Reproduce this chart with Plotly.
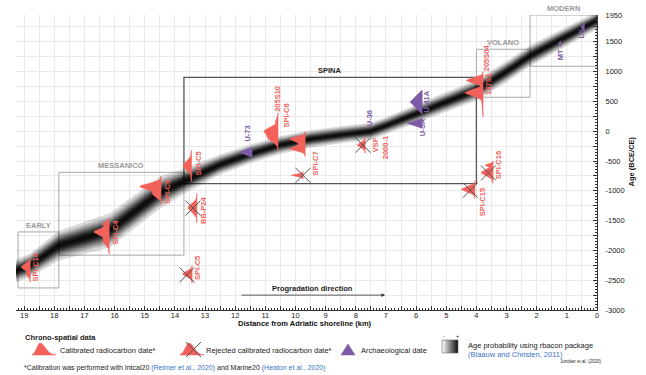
import numpy as np
import plotly.graph_objects as go

FONT = "Liberation Sans, Arial, sans-serif"
RED = "#F2625B"
PURPLE = "#7D5BA6"
BLUE = "#3A73C0"
GRID = "#e9e9e9"

# ---------------- data ----------------
# age-depth model (rbacon) : centre line and half width of the probability band
band_km = [19.3, 18.8, 17.85, 16.15, 14.5, 13.7, 12.5, 11.5, 10.5, 9.5, 8.5, 7.5, 7.0, 6.3, 5.5, 4.0, 3.0, 2.2, 1.2, 0.45, 0.0]
band_center = [-2350, -2250, -1920, -1660, -1030, -840, -560, -380, -230, -130, -60, 0, 90, 230, 390, 690, 1000, 1270, 1540, 1740, 1860]
band_half = [260, 270, 340, 390, 370, 290, 230, 215, 205, 200, 195, 195, 195, 205, 215, 240, 240, 240, 220, 210, 200]

# chrono-spatial periods
period_names = ["EARLY", "MESSANICO", "SPINA", "VOLANO", "MODERN"]
period_km_start = [19.2, 17.85, 13.7, 4.0, 2.22]
period_km_end = [17.85, 13.7, 4.0, 2.22, 0.0]
period_age_min = [-2630, -2080, -880, 570, 1090]
period_age_max = [-1690, -690, 905, 1375, 1950]
period_colors = ["#a8a8a8", "#a8a8a8", "#555555", "#a8a8a8", "#a8a8a8"]

# calibrated radiocarbon dates (accepted): baseline km, modes (age, sd, width km)
cal_ids = ["SPI-C14", "SPI-C4", "SPI-C9", "SPI-C5", "205S10/SPI-C6", "SPI-C7", "187S1/205S04"]
cal_km = [18.8, 16.18, 14.46, 13.45, 10.58, 9.68, 3.78]
cal_means = [[-2280, -2410], [-1690, -1560, -1850], [-930, -1070], [-580], [0, -130, 170], [-130, -300, -215], [850, 640, 450]]
cal_sds = [[45, 35], [50, 30, 60], [50, 45], [75], [55, 55, 40], [32, 32, 60], [42, 50, 60]]
cal_peaks = [[0.3, 0.12], [0.5, 0.2, 0.2], [0.7, 0.25], [0.28], [0.45, 0.3, 0.08], [0.45, 0.45, 0.2], [0.55, 0.6, 0.04]]

# rejected calibrated radiocarbon dates
rej_ids = ["BB-P24", "SPI-C5", "SPI-C7", "VSF 2000-1", "SPI-C15", "SPI-C16"]
rej_km = [13.27, 13.43, 9.75, 7.69, 4.05, 3.45]
rej_means = [[-1290], [-2400], [-740], [-235], [-980], [-700, -570]]
rej_sds = [[70], [42], [18], [38], [42], [50, 20]]
rej_peaks = [[0.3], [0.32], [0.38], [0.26], [0.45], [0.4, 0.25]]
rej_cross_km = [13.4, 13.6, 9.75, 7.76, 4.2, 3.6]
rej_cross_age = [-1290, -2410, -740, -235, -990, -700]

# archaeological dates
arch_ids = ["U-73", "U-41A", "U-5A", "MT", "LS"]
arch_km = [11.44, 5.8, 5.8, 1.2, 0.42]
arch_age_lo = [-435, 290, 50, 1420, 1680]
arch_age_hi = [-270, 690, 215, 1520, 1820]
arch_width = [0.43, 0.4, 0.5, 0.08, 0.12]

# sample labels: text, km, age, colour
sample_labels = [
    ("SPI-C14", 18.63, -2280, RED), ("SPI-C4", 15.98, -1700, RED),
    ("SPI-C9", 14.26, -1020, RED), ("SPI-C5", 13.23, -540, RED),
    ("BB-P24", 13.03, -1320, RED), ("SPI-C5", 13.26, -2290, RED),
    ("205S10", 10.62, 540, RED), ("SPI-C6", 10.3, 270, RED),
    ("SPI-C7", 9.35, -540, RED), ("VSF", 7.36, -235, RED),
    ("2000-1", 7.03, -285, RED), ("205S04", 3.68, 1225, RED),
    ("187S1", 3.62, 790, RED), ("SPI-C15", 3.81, -1190, RED),
    ("SPI-C16", 3.28, -570, RED), ("U-73", 11.6, -35, PURPLE),
    ("U-36", 7.56, 218, PURPLE), ("U-41A", 5.67, 500, PURPLE),
    ("U-5A", 5.8, 67, PURPLE), ("MT", 1.2, 1290, PURPLE), ("LS", 0.5, 1640, PURPLE),
]

x_ticks = list(range(0, 20))
y_tick_labels = [-3000, -2500, -2000, -1500, -1000, -500, 0, 500, 1000, 1500, 1950]

# ---------------- figure ----------------
fig = go.Figure()

# probability band: nested translucent layers giving a gaussian-like shading
bk = np.array(band_km, float)
bc = np.array(band_center, float)
bh = np.array(band_half, float)
N = 18
peak_op = 0.94
alpha = 1 - (1 - peak_op) ** (1 / N)
sig_u = 0.38
for k in range(1, N + 1):
    op = 1 - (1 - alpha) ** k
    f = max(sig_u * np.sqrt(max(2 * np.log(peak_op / op), 0)), 0.03)
    up = bc + f * bh
    lo = bc - f * bh
    fig.add_trace(go.Scatter(x=np.concatenate([bk, bk[::-1]]), y=np.concatenate([up, lo[::-1]]),
                             fill="toself", fillcolor="rgba(0,0,0,%.4f)" % alpha, line=dict(width=0),
                             mode="lines", hoverinfo="skip"))


def dist_trace(x0, means, sds, peaks, color):
    m = np.array(means, float); s = np.array(sds, float); p = np.array(peaks, float)
    a = np.linspace((m - 3.5 * s).min(), (m + 3.5 * s).max(), 160)
    d = (p[:, None] * np.exp(-0.5 * ((a[None, :] - m[:, None]) / s[:, None]) ** 2)).sum(0)
    xs = np.concatenate([x0 + d, [x0, x0]])
    ys = np.concatenate([a, [a[-1], a[0]]])
    return go.Scatter(x=xs, y=ys, fill="toself", fillcolor=color, mode="lines",
                      line=dict(color=color, width=0.6), hoverinfo="skip")


for i in range(len(cal_ids)):
    fig.add_trace(dist_trace(cal_km[i], cal_means[i], cal_sds[i], cal_peaks[i], RED))
for i in range(len(rej_ids)):
    fig.add_trace(dist_trace(rej_km[i], rej_means[i], rej_sds[i], rej_peaks[i], RED))
fig.add_trace(go.Scatter(x=rej_cross_km, y=rej_cross_age, mode="markers",
                         marker=dict(symbol="x-thin", size=15, line=dict(width=1, color="#555")),
                         hoverinfo="skip"))

for i in range(len(arch_ids)):
    x0 = arch_km[i]
    xs = [x0, x0 + arch_width[i], x0, x0]
    ys = [arch_age_lo[i], (arch_age_lo[i] + arch_age_hi[i]) / 2, arch_age_hi[i], arch_age_lo[i]]
    fig.add_trace(go.Scatter(x=xs, y=ys, fill="toself", fillcolor=PURPLE, mode="lines",
                             line=dict(color=PURPLE, width=0.6), hoverinfo="skip"))

# period boxes and labels
for i, name in enumerate(period_names):
    fig.add_shape(type="rect", xref="x", yref="y", x0=period_km_start[i], x1=period_km_end[i],
                  y0=period_age_min[i], y1=period_age_max[i], layer="between",
                  line=dict(color=period_colors[i], width=1.3 if name == "SPINA" else 1))
    fig.add_annotation(x=(period_km_start[i] + period_km_end[i]) / 2, y=period_age_max[i],
                       xref="x", yref="y", yanchor="bottom", yshift=0, showarrow=False,
                       text="<b>%s</b>" % name,
                       font=dict(size=7.5, color="#222" if name == "SPINA" else "#999", family=FONT))

for t, x, y, c in sample_labels:
    fig.add_annotation(x=x, y=y, xref="x", yref="y", text="<b>%s</b>" % t, textangle=-90,
                       showarrow=False, font=dict(size=7.5, color=c, family=FONT))

# progradation arrow
fig.add_annotation(x=7.03, y=-2750, ax=11.84, ay=-2750, xref="x", yref="y", axref="x", ayref="y",
                   text="", showarrow=True, arrowhead=2, arrowsize=0.9, arrowwidth=0.8, arrowcolor="#333")
fig.add_annotation(x=9.42, y=-2640, xref="x", yref="y", text="<b>Progradation direction</b>",
                   showarrow=False, font=dict(size=7.5, color="#222", family=FONT))

# ---------------- axes ----------------
x_tickvals = [v / 2 for v in range(0, 39)]
x_ticktext = [str(int(v)) if float(v).is_integer() else "" for v in x_tickvals]
fig.update_xaxes(range=[19.27, 0], tickmode="array", tickvals=x_tickvals, ticktext=x_ticktext,
                 ticks="inside", ticklen=4, tickcolor="#333", showline=True, linecolor="#333",
                 linewidth=1, showgrid=True, gridcolor=GRID, gridwidth=1, zeroline=False,
                 ticklabelstandoff=-2,
                 tickfont=dict(size=7.5, color="#222", family=FONT),
                 minor=dict(tickmode="linear", tick0=0, dtick=0.1, ticks="inside", ticklen=2,
                            tickcolor="#333", showgrid=False))
y_tickvals = list(range(-3000, 1751, 250)) + [1950]
y_ticktext = [str(v) if v in y_tick_labels else "" for v in y_tickvals]
fig.update_yaxes(range=[-3000, 1950], side="right", tickmode="array", tickvals=y_tickvals,
                 ticktext=y_ticktext, ticks="inside", ticklen=4, tickcolor="#333", showline=True,
                 linecolor="#333", linewidth=1, showgrid=True, gridcolor=GRID, gridwidth=1,
                 zeroline=False, ticklabelstandoff=6,
                 tickfont=dict(size=7.5, color="#222", family=FONT),
                 minor=dict(tickmode="linear", tick0=0, dtick=50, ticks="inside", ticklen=2,
                            tickcolor="#333", showgrid=False))

# ---------------- legend / notes (paper coords from pixels) ----------------
L, T, W, H = 16, 15, 581, 295


def px(x):
    return (x - L) / W


def py(y):
    return (T + H - y) / H


def note(x, y, text, size=7.5, color="#222", xanchor="left"):
    fig.add_annotation(x=px(x), y=py(y), xref="paper", yref="paper", text=text, showarrow=False,
                       xanchor=xanchor, yanchor="middle", font=dict(size=size, color=color, family=FONT))


fig.add_annotation(x=px(305), y=py(329.5), xref="paper", yref="paper",
                   text="<b>Distance from Adriatic shoreline (km)</b>", showarrow=False,
                   font=dict(size=7.5, color="#111", family=FONT))
fig.add_annotation(x=px(637), y=py(162), xref="paper", yref="paper", textangle=-90,
                   text="<b>Age (BCE/CE)</b>", showarrow=False, font=dict(size=7.5, color="#111", family=FONT))

note(23, 337, "<b>Chrono-spatial data</b>")


def hump_path(x0, x1, xpk, ytop, ybase):
    xs = np.linspace(x0, x1, 30)
    sd_l = (xpk - x0) / 2.5
    sd_r = (x1 - xpk) / 3.0
    h = np.where(xs < xpk, np.exp(-0.5 * ((xs - xpk) / sd_l) ** 2), np.exp(-0.5 * ((xs - xpk) / sd_r) ** 2))
    ys = ybase - (ybase - ytop) * h
    pts = ["M %f,%f" % (px(x0), py(ybase))] + ["L %f,%f" % (px(a), py(b)) for a, b in zip(xs, ys)]
    pts.append("L %f,%f Z" % (px(x1), py(ybase)))
    return " ".join(pts)


fig.add_shape(type="path", xref="paper", yref="paper", path=hump_path(32, 56, 40, 343, 355),
              fillcolor=RED, line=dict(color=RED, width=0.5))
note(58, 350, "Calibrated radiocarbon date*")
fig.add_shape(type="path", xref="paper", yref="paper", path=hump_path(180, 204, 189, 343, 355),
              fillcolor=RED, line=dict(color=RED, width=0.5))
for (a, b, c, d) in [(186, 342, 201, 357), (201, 342, 186, 357)]:
    fig.add_shape(type="line", xref="paper", yref="paper", x0=px(a), y0=py(b), x1=px(c), y1=py(d),
                  line=dict(color="#555", width=1))
note(204, 350, "Rejected calibrated radiocarbon date*")
fig.add_shape(type="path", xref="paper", yref="paper",
              path="M %f,%f L %f,%f L %f,%f Z" % (px(341), py(355), px(348), py(344), px(355), py(355)),
              fillcolor=PURPLE, line=dict(color=PURPLE, width=0.5))
note(359, 350, "Archaeological date")

# gradient box
nstep = 16
for k in range(nstep):
    g = int(round(250 - 230 * k / (nstep - 1)))
    fig.add_shape(type="rect", xref="paper", yref="paper", x0=px(442 + k), x1=px(443 + k),
                  y0=py(353), y1=py(340), line=dict(width=0), fillcolor="rgb(%d,%d,%d)" % (g, g, g))
fig.add_shape(type="rect", xref="paper", yref="paper", x0=px(442), x1=px(458), y0=py(353), y1=py(340),
              line=dict(color="#666", width=0.6))
note(444, 335.5, "-", size=5, xanchor="center")
note(457, 335.5, "+", size=5, xanchor="center")
note(466, 345, "Age probability using rbacon package")
note(466, 354.5, "(Blaauw and Christen, 2011)", color=BLUE)

note(22, 368, "*Calibration was performed with Intcal20 <span style='color:%s'>(Reimer et al., 2020)</span>"
              " and Marine20 <span style='color:%s'>(Heaton et al., 2020)</span>" % (BLUE, BLUE), size=7)
note(558, 362, "Juncker et al. (2020)", size=4.5)

fig.update_layout(width=646, height=375, margin=dict(l=16, r=49, t=15, b=65),
                  paper_bgcolor="white", plot_bgcolor="white", showlegend=False,
                  font=dict(family=FONT, size=7.5, color="#222"))

fig.write_html("out.html")
